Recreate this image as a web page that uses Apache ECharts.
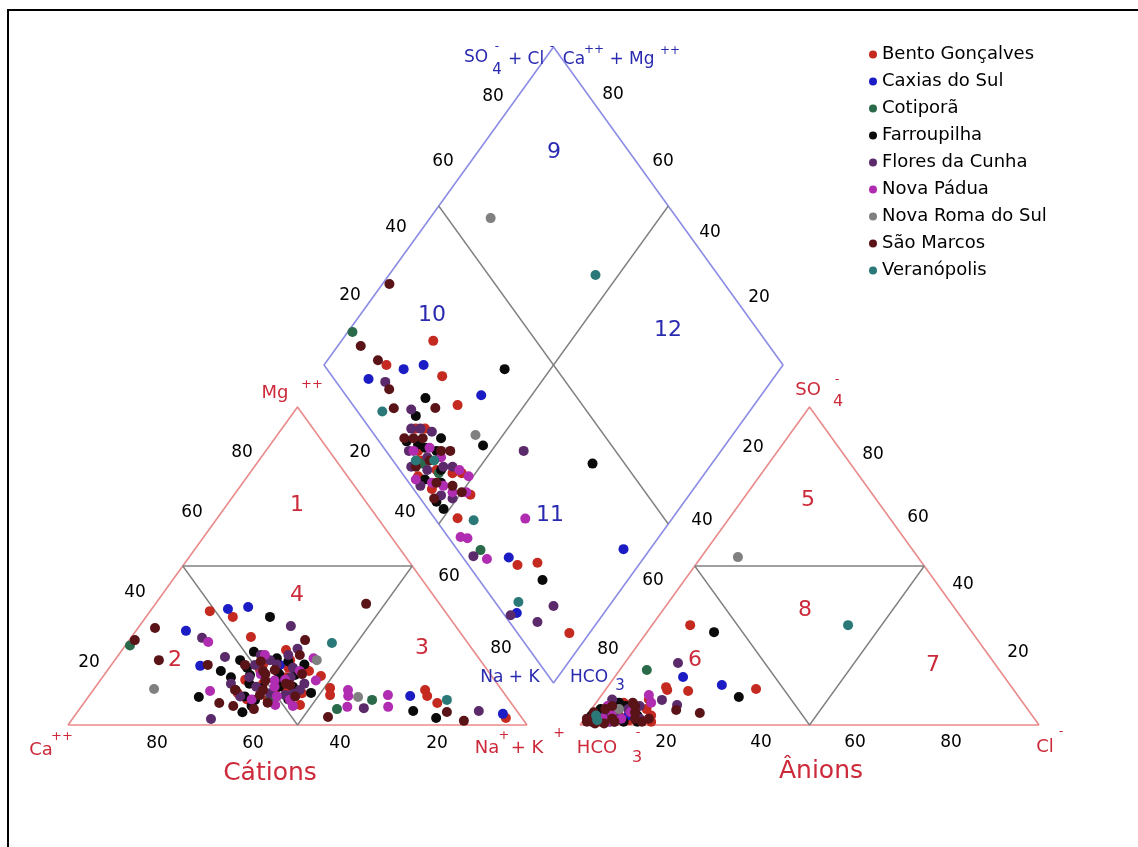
<!DOCTYPE html>
<html><head><meta charset="utf-8">
<script src="https://cdn.jsdelivr.net/npm/echarts@6/dist/echarts.min.js"></script>
<style>html,body{margin:0;padding:0;background:#fff}#c{width:1138px;height:847px}</style>
</head><body><div id="c"></div>
<script>
// ---------- DATA (percentages) ----------
// cation triangle points: [Na+K %, Mg %]   anion triangle points: [Cl %, SO4 %]   diamond points: [Na+K %, SO4+Cl %]
const seriesNames = ['Bento Gonçalves','Caxias do Sul','Cotiporã','Farroupilha','Flores da Cunha','Nova Pádua','Nova Roma do Sul','São Marcos','Veranópolis'];
const seriesColors = ['#c42a20','#1c1cc4','#2a6a4a','#0a0a0a','#5a2a6a','#b02cb0','#808080','#5a1418','#2a7878'];

const bentoCat = [[13.0,35.8],[18.9,34.0],[26.0,27.7],[47.4,15.4],[51.3,11.6],[52.4,9.4],[72.3,11.0],[73.7,9.1],[77.0,6.9],[94.3,2.2],[33.2,17.3],[39.6,11.0],[38.2,20.4],[31.5,14.2],[47.4,6.3],[39.6,7.9],[35.7,23.6],[36,13],[39,18],[42,11],[35,8],[44,17],[32,10],[40,15],[33,19],[46,10],[37,17]];
const bentoAni = [[8.3,31.4],[18.2,10.7],[12.8,11.9],[13.5,11.0],[32.7,11.3],[2,2],[7,3],[9,6],[4,1],[12,5],[14,3],[5,2.5],[10,1.5],[6,7],[3,3],[11,8],[15,1]];
const bentoDia = [[20,27.6],[13.6,13.6],[27.5,24],[35.4,22.8],[52.3,11.5],[53.2,5],[73.6,10.7],[77.6,15.4],[95.6,11.3],[34,7],[41,8],[38,3],[45,11],[30,10],[32,12],[43,4],[47,13],[36,6]];

const caxiasCat = [[16.6,36.5],[20.7,37.1],[10.9,29.6],[19.5,18.6],[70.0,9.1],[93.0,3.5],[36.7,18.9]];
const caxiasAni = [[14.9,15.1],[24.6,12.6],[9,3],[6,2],[5,6]];
const caxiasDia = [[18,16.7],[21.7,21.7],[11.9,7.5],[39,29.5],[70.5,10],[94.2,36.3],[81,3]];

const cotiporaCat = [[1,25],[56.1,5.0],[62.3,7.9],[40,7.9]];
const cotiporaAni = [[5.9,17.3],[2,4],[6,1]];
const cotiporaDia = [[1,11.4],[63.2,5],[37,6],[42,8]];

const farroupilhaCat = [[27.0,34.0],[24.8,17.0],[24.1,8.8],[47.9,10.1],[73.0,4.4],[79.1,2.2],[27.3,20.4],[31.8,15.7],[36.5,11.6],[39.1,14.2],[36.8,7.9],[41.6,15.7],[30,18],[33,13],[35,21],[38,16],[34,9],[40,12],[42,19],[37,6],[29,23],[44,8],[31,11],[38,20],[43,12],[36,4],[28,15]];
const farroupilhaAni = [[14.6,29.2],[30.2,8.8],[3,2],[6,4],[9,1],[5,7],[11,3],[2,5],[1,3],[7,6],[12,1]];
const farroupilhaDia = [[40,38.7],[27.3,16.9],[47.3,22],[74,43],[48.7,3.4],[81.4,13.8],[30,6],[35,9],[40,4],[28,12],[44,7],[38,11],[33,8],[42,9],[46,3],[37,14]];

const floresCat = [[33.0,31.1],[23.5,21.4],[30.2,1.9],[61.8,5.3],[87.3,4.4],[15.5,27.4],[33.8,20.4],[42.6,9.4],[31.3,18.9],[45,11],[32,15],[36,19],[39,10],[41,15],[35,12],[45,13],[31,22],[38,24],[33,9],[40,18],[44,10],[37,22],[29,13]];
const floresAni = [[11.6,19.5],[13.9,7.9],[18,6.3],[4,3],[8,5],[7,1],[12,2],[3,8],[2,1],[10,6],[6,4]];
const floresDia = [[16,10.7],[26,12],[57,30],[62.6,2.5],[80,1.3],[87.9,12.1],[86.9,6.1],[32,5],[37,8],[42,10],[34,13],[46,5],[29,9],[40,2],[31,11],[39,6],[44,12],[49,7],[35,3]];

const novaPaduaCat = [[17.5,26.1],[25.6,10.7],[55.5,11.0],[56.5,9.1],[58.0,5.7],[65.0,9.4],[66.9,5.7],[40.2,14.2],[42,6.3],[44.4,7.9],[31.9,22],[38,14],[41,9],[43,21],[46,6],[34,16],[39,12],[36,8],[47,14],[42,17]];
const novaPaduaAni = [[10.3,9.4],[5,4],[12,7],[8,2],[3,6],[6,1],[9,4],[4,2]];
const novaPaduaDia = [[46,13],[49,14],[68,19.7],[56.8,2.7],[58.5,4],[66,5],[36,10],[42,5],[48,8],[33,6],[40,11],[45,7],[38,2],[51,11]];

const novaRomaCat = [[13.1,11.3],[44.0,20.4],[58.8,8.8]];
const novaRomaAni = [[8.0,52.8],[6,5]];
const novaRomaDia = [[13.2,59.4],[44,22]];

const saoMarcosCat = [[1.2,26.7],[3.7,30.5],[9.6,20.4],[21.0,18.9],[29.5,6.9],[45.9,38.1],[38.3,26.7],[55.4,2.5],[80.5,4.1],[85.6,1.3],[29.1,18.9],[36.4,17.3],[42.1,12.6],[37.1,9.4],[39.5,22],[30.9,11],[34,17],[37,11],[40,7],[43,16],[33,6],[36,14],[32,20],[41,13],[38,5],[45,9],[35,16]];
const saoMarcosAni = [[18.6,4.7],[24.2,3.8],[1,1],[4,6],[6,2],[10,4],[2,3],[8,7],[13,1],[5,0.5],[0.5,2],[3,0.5],[3,5],[7,1],[11,2],[9,6],[1,4],[14,2]];
const saoMarcosDia = [[1.5,27],[5,11],[11,12.5],[18,10.4],[22,8.4],[31,17.5],[31,8],[36,4],[39,12],[43,6],[33,10],[47,9],[29,6],[38,8],[41,14],[45,3],[50,10]];

const veranopolisCat = [[44.6,25.8],[78.6,7.9]];
const veranopolisAni = [[42.7,31.4],[2,3],[3,1.5]];
const veranopolisDia = [[45,73.3],[20,5.4],[57,8.2],[79.6,5.1],[35,5],[39,9]];

const tickLabels = ['20','40','60','80'];
const regionLabelsTri = ['1','2','3','4','5','6','7','8'];
const regionLabelsDia = ['9','10','11','12'];

// ---------- GEOMETRY (units: triangle side = 100) ----------
const GAP = 11.55, OX = 100 + GAP, DBX = 100 + GAP / 2, DBY = 13.2;
const toCat = d => [d[0] + d[1] / 2, d[1]];
const toAni = d => [OX + d[0] + d[1] / 2, d[1]];
const toDia = d => { const a = 1 - d[0] / 100, b = d[1] / 100; return [DBX + 50 * (b - a), DBY + 100 * (a + b)]; };

const groups = [
  [bentoCat, bentoAni, bentoDia],
  [caxiasCat, caxiasAni, caxiasDia],
  [cotiporaCat, cotiporaAni, cotiporaDia],
  [farroupilhaCat, farroupilhaAni, farroupilhaDia],
  [floresCat, floresAni, floresDia],
  [novaPaduaCat, novaPaduaAni, novaPaduaDia],
  [novaRomaCat, novaRomaAni, novaRomaDia],
  [saoMarcosCat, saoMarcosAni, saoMarcosDia],
  [veranopolisCat, veranopolisAni, veranopolisDia]
];

const RED_LINE = '#ea8a8a', BLUE_LINE = '#8c8ce6', GREY_LINE = '#808080';
function poly(pts, color, w) {
  return { type: 'line', data: pts, symbol: 'none', silent: true, z: 1, animation: false,
    lineStyle: { color: color, width: w }, clip: false };
}
const D_B = [DBX, DBY], D_L = [DBX - 50, DBY + 100], D_T = [DBX, DBY + 200], D_R = [DBX + 50, DBY + 100];
const mid = (p, q) => [(p[0] + q[0]) / 2, (p[1] + q[1]) / 2];
const lineSeries = [
  poly([[0,0],[100,0],[50,100],[0,0]], RED_LINE, 1.6),
  poly([[25,50],[75,50]], GREY_LINE, 1.4),
  poly([[25,50],[50,0],[75,50]], GREY_LINE, 1.4),
  poly([[OX,0],[OX+100,0],[OX+50,100],[OX,0]], RED_LINE, 1.6),
  poly([[OX+25,50],[OX+75,50]], GREY_LINE, 1.4),
  poly([[OX+25,50],[OX+50,0],[OX+75,50]], GREY_LINE, 1.4),
  poly([D_B, D_L, D_T, D_R, D_B], BLUE_LINE, 1.6),
  poly([mid(D_L, D_T), mid(D_B, D_R)], GREY_LINE, 1.4),
  poly([mid(D_T, D_R), mid(D_L, D_B)], GREY_LINE, 1.4)
];

const pointSeries = seriesNames.map((n, i) => ({
  name: n, type: 'scatter', symbol: 'circle', symbolSize: 10, z: 5, animation: false,
  itemStyle: { color: seriesColors[i], opacity: 1 },
  data: [].concat(groups[i][0].map(toCat), groups[i][1].map(toAni), groups[i][2].map(toDia))
}));

// ---------- TEXT ----------
const RED = '#cc2a3a', BLUE = '#2a2ab0', FONT = '"DejaVu Sans", "Liberation Sans", sans-serif';
function T(text, x, y, size, color) {
  return { type: 'text', x: x, y: y, silent: true, z: 10,
    style: { text: text, fill: color, font: size + 'px ' + FONT, textAlign: 'center', textVerticalAlign: 'middle' } };
}
const texts = [];
const tickPos = {
  catLeft:  [[89,663],[135,593],[192,513],[242,453]],
  catBase:  [[437,744],[340,744],[253,744],[157,744]],
  diaLL:    [[360,453],[405,513],[449,577],[501,649]],
  diaLR:    [[753,448],[702,521],[653,581],[608,650]],
  aniRight: [[1018,653],[963,585],[918,518],[873,455]],
  aniBase:  [[666,743],[761,743],[855,743],[951,743]],
  diaUL:    [[350,296],[396,228],[443,162],[493,97]],
  diaUR:    [[759,298],[710,233],[663,162],[613,95]]
};
Object.values(tickPos).forEach(list => list.forEach((p, k) => texts.push(T(tickLabels[k], p[0], p[1], 17, '#000'))));

const regTriPos = [[297,505],[175,660],[422,648],[297,595],[808,500],[695,660],[933,665],[805,610]];
regionLabelsTri.forEach((s, k) => texts.push(T(s, regTriPos[k][0], regTriPos[k][1], 22, RED)));
const regDiaPos = [[554,152],[432,315],[550,515],[668,330]];
regionLabelsDia.forEach((s, k) => texts.push(T(s, regDiaPos[k][0], regDiaPos[k][1], 22, BLUE)));

texts.push(
  T('Ca', 41, 750, 18, RED), T('++', 62, 737, 13, RED),
  T('Na', 487, 748, 18, RED), T('+', 504, 736, 13, RED), T('+ K', 527, 748, 18, RED), T('+', 559, 733, 14, RED),
  T('HCO', 597, 748, 18, RED), T('-', 638, 733, 13, RED), T('3', 637, 758, 16, RED),
  T('Cl', 1045, 747, 18, RED), T('-', 1061, 732, 13, RED),
  T('Mg', 275, 393, 18, RED), T('++', 312, 385, 13, RED),
  T('SO', 808, 390, 18, RED), T('4', 838, 402, 16, RED), T('-', 837, 380, 13, RED),
  T('Cátions', 270, 773, 25, RED), T('Ânions', 821, 771, 25, RED),
  T('SO', 476, 58, 17, BLUE), T('4', 497, 70, 15, BLUE), T('-', 497, 47, 12, BLUE),
  T('+ Cl', 526, 60, 17, BLUE), T('-', 552, 47, 12, BLUE),
  T('Ca', 574, 60, 17, BLUE), T('++', 594, 50, 12, BLUE),
  T('+ Mg', 632, 60, 17, BLUE), T('++', 670, 51, 12, BLUE),
  T('Na + K', 510, 678, 17, BLUE), T('HCO', 589, 678, 17, BLUE), T('3', 620, 686, 15, BLUE)
);
texts.unshift({ type: 'rect', silent: true, z: 0, shape: { x: 8, y: 10, width: 1300, height: 1000 },
  style: { fill: 'none', stroke: '#000', lineWidth: 2 } });

const chart = echarts.init(document.getElementById('c'));
chart.setOption({
  animation: false,
  backgroundColor: '#fff',
  grid: { left: 0, right: 0, top: 0, bottom: 0 },
  xAxis: { type: 'value', min: -14.815, max: 233.115, show: false },
  yAxis: { type: 'value', min: -38.365, max: 227.987, show: false },
  legend: { data: seriesNames, orient: 'vertical', left: 864, top: 40, itemWidth: 8, itemHeight: 8, itemGap: 8,
    icon: 'circle', textStyle: { fontSize: 18, fontFamily: 'DejaVu Sans', color: '#000', lineHeight: 19 } },
  series: lineSeries.concat(pointSeries),
  graphic: texts
});
</script></body></html>
